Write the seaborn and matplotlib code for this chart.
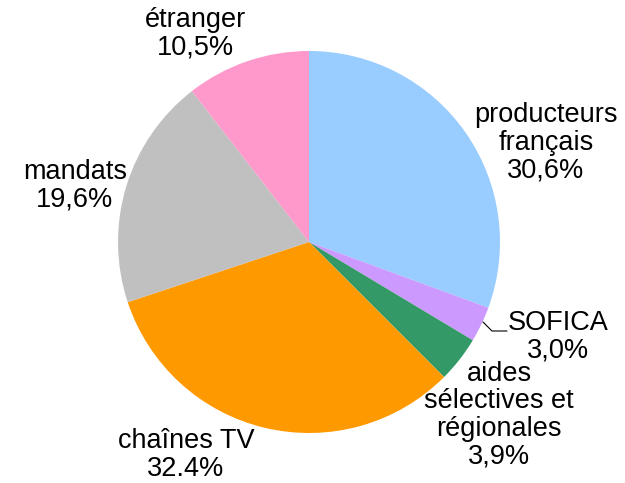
import matplotlib
matplotlib.use("Agg")
import matplotlib.pyplot as plt
import seaborn as sns

sns.set_theme(style="white")
plt.rcParams["font.family"] = ["Liberation Sans", "DejaVu Sans"]

# parts of the financing, clockwise from 12 o'clock
labels = ["producteurs\nfrançais", "SOFICA", "aides\nsélectives et\nrégionales",
          "chaînes TV", "mandats", "étranger"]
pct_text = ["30,6%", "3,0%", "3,9%", "32.4%", "19,6%", "10,5%"]
shares = [30.6, 3.0, 3.9, 32.4, 19.6, 10.5]
colors = ["#99CCFF", "#CC99FF", "#339966", "#FF9900", "#C0C0C0", "#FF99CC"]

# label anchor points in pixel space (x, y from top)
label_pos = [(546, 143), (558, 337), (499, 415), (186, 455), (75, 186), (195, 34)]

fig = plt.figure(figsize=(6.25, 4.83), dpi=100)
ax = fig.add_axes([0, 0, 1, 1])
H = 483
ax.pie(shares, colors=colors, startangle=90, counterclock=False,
       center=(309, H - 242), radius=191,
       wedgeprops={"linewidth": 0})
ax.set_xlim(0, 625)
ax.set_ylim(0, H)
ax.set_aspect("equal")
ax.axis("off")

for lab, p, (x, y) in zip(labels, pct_text, label_pos):
    ax.text(x, H - y, f"{lab}\n{p}", ha="center", va="center",
            fontsize=19.5, color="black", linespacing=1.08)

# leader line for SOFICA
ax.plot([483, 492, 507], [H - 322, H - 331, H - 331], color="black", lw=0.8)

fig.savefig("out.png", dpi=100)
